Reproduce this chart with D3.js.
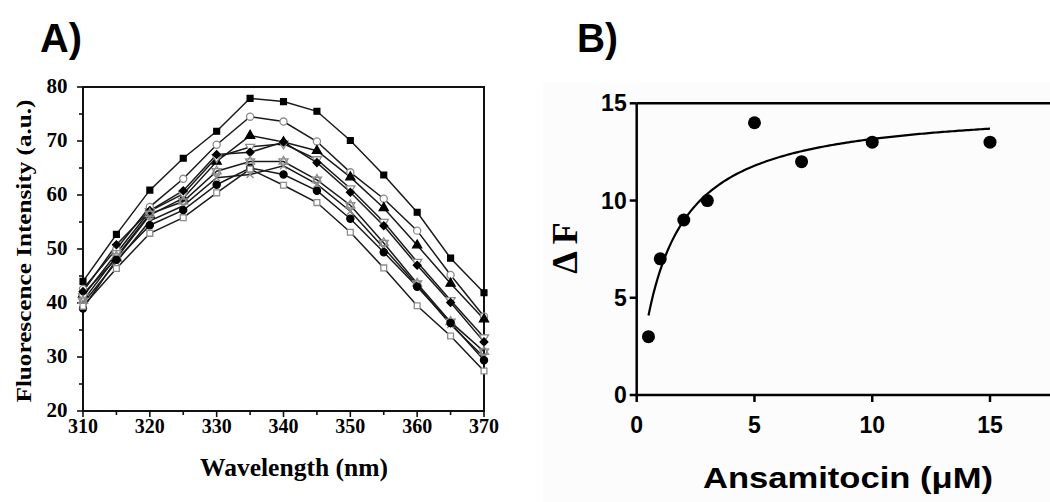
<!DOCTYPE html>
<html>
<head>
<meta charset="utf-8">
<script src="https://cdn.jsdelivr.net/npm/d3@7"></script>
<style>
  html, body { margin: 0; padding: 0; background: #fff; }
  svg { display: block; }
</style>
</head>
<body>
<svg id="chart" width="1050" height="502"></svg>
<script>
// ---- panel A data: fluorescence spectra ----
const wavelengths = [310, 315, 320, 325, 330, 335, 340, 345, 350, 355, 360, 365, 370];

const filledSquare  = [44.0, 52.7, 60.9, 66.8, 71.8, 77.9, 77.3, 75.5, 70.1, 63.7, 56.8, 48.3, 41.9];
const openCircle    = [42.6, 50.0, 57.8, 63.0, 69.3, 74.5, 73.6, 69.9, 64.2, 59.3, 53.4, 45.2, 37.5];
const filledTri     = [41.6, 48.3, 56.3, 59.4, 66.2, 71.0, 69.8, 68.2, 63.3, 57.6, 50.7, 43.6, 37.0];
const openDownTri   = [41.2, 49.2, 57.0, 60.2, 67.0, 68.9, 69.5, 66.6, 61.2, 55.0, 47.6, 40.5, 33.6];
const filledDiamond = [42.1, 50.8, 57.1, 60.8, 67.5, 67.9, 69.8, 66.0, 60.5, 54.3, 47.0, 40.1, 32.8];
const openStar      = [40.4, 48.6, 56.5, 58.8, 64.4, 66.2, 66.2, 62.8, 58.1, 51.1, 43.6, 36.5, 31.0];
const grayCross     = [39.9, 47.6, 55.2, 58.0, 63.2, 63.8, 65.4, 62.0, 57.0, 50.2, 43.3, 36.0, 30.0];
const filledCircle  = [39.0, 48.0, 54.4, 57.2, 61.9, 65.0, 63.8, 60.8, 55.6, 49.4, 43.0, 36.3, 29.4];
const openSquare    = [39.4, 46.4, 52.9, 55.8, 60.4, 64.8, 61.8, 58.6, 53.1, 46.5, 39.5, 33.9, 27.4];

const spectra = [
  { name: "filledSquare",  values: filledSquare,  symbol: "square",   filled: true },
  { name: "openCircle",    values: openCircle,    symbol: "circle",   filled: false },
  { name: "filledTri",     values: filledTri,     symbol: "triangle", filled: true },
  { name: "openDownTri",   values: openDownTri,   symbol: "downtri",  filled: false },
  { name: "filledDiamond", values: filledDiamond, symbol: "diamond",  filled: true },
  { name: "openStar",      values: openStar,      symbol: "star",     filled: false },
  { name: "grayCross",     values: grayCross,     symbol: "cross",    filled: false },
  { name: "filledCircle",  values: filledCircle,  symbol: "circle",   filled: true },
  { name: "openSquare",    values: openSquare,    symbol: "square",   filled: false }
];

const xTicksA = [310, 320, 330, 340, 350, 360, 370];
const yTicksA = [20, 30, 40, 50, 60, 70, 80];

// ---- panel B data: titration ----
const conc = [0.5, 1, 2, 3, 5, 7, 10, 15];
const deltaF = [3, 7, 9, 10, 14, 12, 13, 13];
const fitBmax = 14.9, fitKd = 1.32;   // one-site binding fit drawn as curve
const xTicksB = [0, 5, 10, 15];
const yTicksB = [0, 5, 10, 15];

const svg = d3.select("#chart");

// panel letters
svg.append("text").attr("x", 40).attr("y", 52)
  .style("font", "bold 40px 'Liberation Sans', Arial, sans-serif")
  .attr("textLength", 42).attr("lengthAdjust", "spacingAndGlyphs")
  .text("A)");
svg.append("text").attr("x", 577).attr("y", 52)
  .style("font", "bold 40px 'Liberation Sans', Arial, sans-serif")
  .attr("textLength", 41).attr("lengthAdjust", "spacingAndGlyphs")
  .text("B)");

// ================= Panel A =================
const xA = d3.scaleLinear().domain([310, 370]).range([83, 484]);
const yA = d3.scaleLinear().domain([20, 80]).range([411, 87]);
const serif = "'Liberation Serif', 'Times New Roman', serif";

const gA = svg.append("g");

// frame
gA.append("rect")
  .attr("x", xA(310)).attr("y", yA(80))
  .attr("width", xA(370) - xA(310)).attr("height", yA(20) - yA(80))
  .attr("fill", "none").attr("stroke", "#111").attr("stroke-width", 2);

// minor + major ticks, outward
const xMinorA = d3.range(310, 371, 5);
gA.append("g").selectAll("line").data(xMinorA).join("line")
  .attr("x1", d => xA(d)).attr("x2", d => xA(d))
  .attr("y1", yA(20)).attr("y2", d => yA(20) + (d % 10 === 0 ? 6 : 4))
  .attr("stroke", "#111").attr("stroke-width", 1.6);
const yMinorA = d3.range(20, 81, 5);
gA.append("g").selectAll("line").data(yMinorA).join("line")
  .attr("y1", d => yA(d)).attr("y2", d => yA(d))
  .attr("x1", xA(310)).attr("x2", d => xA(310) - (d % 10 === 0 ? 6 : 4))
  .attr("stroke", "#111").attr("stroke-width", 1.6);

gA.append("g").selectAll("text").data(xTicksA).join("text")
  .attr("x", d => xA(d)).attr("y", 433)
  .attr("text-anchor", "middle")
  .style("font", `bold 20px ${serif}`)
  .text(d => d);
gA.append("g").selectAll("text").data(yTicksA).join("text")
  .attr("x", 67.5).attr("y", d => yA(d) + 6)
  .attr("text-anchor", "end")
  .style("font", `bold 21px ${serif}`)
  .text(d => d);

gA.append("text")
  .attr("x", 294).attr("y", 476)
  .attr("text-anchor", "middle")
  .style("font", `bold 25px ${serif}`)
  .attr("textLength", 188).attr("lengthAdjust", "spacingAndGlyphs")
  .text("Wavelength (nm)");
gA.append("text")
  .attr("transform", `translate(31,${(yA(20) + yA(80)) / 2 + 2}) rotate(-90)`)
  .attr("text-anchor", "middle")
  .style("font", `bold 22px ${serif}`)
  .attr("textLength", 303).attr("lengthAdjust", "spacingAndGlyphs")
  .text("Fluorescence Intensity (a.u.)");

const line = d3.line().x((d, i) => xA(wavelengths[i])).y(d => yA(d));

gA.append("g").selectAll("path").data(spectra).join("path")
  .attr("d", s => line(s.values))
  .attr("fill", "none").attr("stroke", "#1a1a1a").attr("stroke-width", 1.5);

const symPath = {
  square: d3.symbol(d3.symbolSquare, 34)(),
  circle: d3.symbol(d3.symbolCircle, 40)(),
  triangle: d3.symbol(d3.symbolTriangle, 36)(),
  diamond: d3.symbol(d3.symbolSquare, 30)()
};

function drawMarker(g, s, cx, cy) {
  const fill = s.filled ? "#000" : "#fff";
  const stroke = s.filled ? "#000" : "#8c8c8c";
  const sw = 1.3;
  const t = `translate(${cx},${cy})`;
  if (s.symbol === "diamond") {
    g.append("path").attr("d", symPath.diamond).attr("transform", t + " rotate(45)")
      .attr("fill", fill).attr("stroke", stroke).attr("stroke-width", sw);
  } else if (s.symbol === "downtri") {
    g.append("path").attr("d", symPath.triangle).attr("transform", t + " rotate(180)")
      .attr("fill", fill).attr("stroke", stroke).attr("stroke-width", sw);
  } else if (s.symbol === "star") {
    g.append("path").attr("d", symPath.triangle).attr("transform", t)
      .attr("fill", "none").attr("stroke", stroke).attr("stroke-width", sw);
    g.append("path").attr("d", symPath.triangle).attr("transform", t + " rotate(180)")
      .attr("fill", "none").attr("stroke", stroke).attr("stroke-width", sw);
  } else if (s.symbol === "cross") {
    g.append("path").attr("d", "M-3.5,-3.5L3.5,3.5M-3.5,3.5L3.5,-3.5").attr("transform", t)
      .attr("fill", "none").attr("stroke", stroke).attr("stroke-width", 1.3);
  } else {
    g.append("path").attr("d", symPath[s.symbol]).attr("transform", t)
      .attr("fill", fill).attr("stroke", stroke).attr("stroke-width", sw);
  }
}

const markers = gA.append("g");
spectra.forEach(s => {
  s.values.forEach((v, i) => drawMarker(markers, s, xA(wavelengths[i]), yA(v)));
});

// ================= Panel B =================
const gB = svg.append("g");
gB.append("rect").attr("x", 543).attr("y", 83).attr("width", 507).attr("height", 419)
  .attr("fill", "#fcfcfc");

const xB = d3.scaleLinear().domain([0, 15]).range([636.7, 990]);
const yB = d3.scaleLinear().domain([0, 15]).range([395, 103.3]);
const sans = "'Liberation Sans', Arial, sans-serif";

// axes lines extend to right edge
gB.append("line").attr("x1", xB(0)).attr("x2", 1050).attr("y1", yB(0)).attr("y2", yB(0))
  .attr("stroke", "#000").attr("stroke-width", 2.5);
gB.append("line").attr("x1", xB(0)).attr("x2", 1050).attr("y1", yB(15)).attr("y2", yB(15))
  .attr("stroke", "#000").attr("stroke-width", 2.5);
gB.append("line").attr("x1", xB(0)).attr("x2", xB(0)).attr("y1", yB(15)).attr("y2", yB(0))
  .attr("stroke", "#000").attr("stroke-width", 2.5);

gB.append("g").selectAll("line").data(yTicksB).join("line")
  .attr("x1", xB(0) - 7).attr("x2", xB(0)).attr("y1", d => yB(d)).attr("y2", d => yB(d))
  .attr("stroke", "#000").attr("stroke-width", 2.5);
gB.append("g").selectAll("line").data(xTicksB).join("line")
  .attr("x1", d => xB(d)).attr("x2", d => xB(d)).attr("y1", yB(0)).attr("y2", yB(0) + 7)
  .attr("stroke", "#000").attr("stroke-width", 2.5);

gB.append("g").selectAll("text").data(yTicksB).join("text")
  .attr("x", xB(0) - 10).attr("y", d => yB(d) + 8)
  .attr("text-anchor", "end")
  .style("font", `bold 23px ${sans}`)
  .text(d => d);
gB.append("g").selectAll("text").data(xTicksB).join("text")
  .attr("x", d => xB(d)).attr("y", 433)
  .attr("text-anchor", "middle")
  .style("font", `bold 23px ${sans}`)
  .text(d => d);

gB.append("text")
  .attr("x", 848).attr("y", 488)
  .attr("text-anchor", "middle")
  .style("font", `bold 30px ${sans}`)
  .attr("textLength", 290).attr("lengthAdjust", "spacingAndGlyphs")
  .text("Ansamitocin (\u03BCM)");
gB.append("text")
  .attr("transform", `translate(577,${248}) rotate(-90)`)
  .attr("text-anchor", "middle")
  .style("font", `bold 36px ${serif}`)
  .text("\u0394 F");

// fitted curve
const fitX = d3.range(0.5, 15.001, 0.1);
gB.append("path")
  .attr("d", d3.line().x(d => xB(d)).y(d => yB(fitBmax * d / (fitKd + d)))(fitX))
  .attr("fill", "none").attr("stroke", "#000").attr("stroke-width", 2.2);

gB.append("g").selectAll("circle").data(conc).join("circle")
  .attr("cx", d => xB(d)).attr("cy", (d, i) => yB(deltaF[i]))
  .attr("r", 6.5).attr("fill", "#000");
</script>
</body>
</html>
